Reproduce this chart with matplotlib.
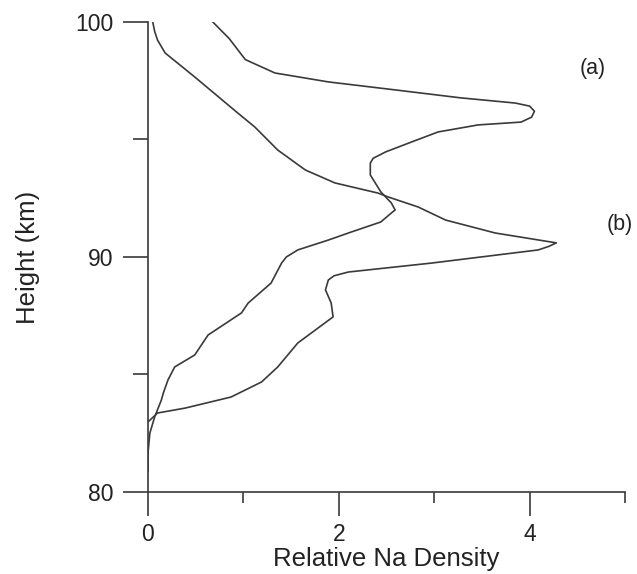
import matplotlib
matplotlib.use("Agg")
import matplotlib.pyplot as plt

plt.rcParams['font.family'] = ['Liberation Sans', 'DejaVu Sans']

# Curve (a): relative Na density vs height
a_density = [0.68, 0.74, 0.85, 1.02, 1.33, 1.89, 2.59, 3.28, 3.85, 4.00, 4.05, 4.02, 3.91,
             3.46, 3.04, 2.76, 2.49, 2.36, 2.33, 2.33, 2.44, 2.55, 2.59, 2.55, 2.44, 2.10,
             1.89, 1.57, 1.45, 1.40, 1.29, 1.05, 0.98, 0.63, 0.49, 0.28, 0.21, 0.16, 0.14,
             0.07, 0.02, 0.0, 0.0]
a_height = [100.0, 99.75, 99.3, 98.4, 97.83, 97.45, 97.11, 96.77, 96.55, 96.42, 96.2, 95.95,
            95.74, 95.62, 95.32, 94.89, 94.47, 94.2, 94.0, 93.49, 92.77, 92.30, 92.0, 91.87,
            91.49, 91.02, 90.72, 90.30, 90.0, 89.74, 88.89, 88.04, 87.62, 86.68, 85.83,
            85.32, 84.77, 84.2, 83.91, 83.19, 82.51, 81.66, 80.9]

# Curve (b)
b_density = [0.05, 0.07, 0.10, 0.18, 0.49, 0.94, 1.12, 1.36, 1.65, 1.96, 2.41, 2.52, 2.83,
             3.12, 3.64, 4.28, 4.20, 4.09, 2.97, 2.10, 1.95, 1.89, 1.86, 1.92, 1.94, 1.57,
             1.36, 1.19, 0.87, 0.39, 0.10, 0.0]
b_height = [100.0, 99.6, 99.23, 98.68, 97.66, 96.13, 95.53, 94.55, 93.70, 93.15, 92.72,
            92.55, 92.13, 91.57, 91.02, 90.60, 90.45, 90.30, 89.74, 89.36, 89.2, 89.02,
            88.60, 88.04, 87.45, 86.34, 85.32, 84.68, 84.04, 83.57, 83.36, 82.98]

labels = ["(a)", "(b)"]
label_x = [4.66, 4.94]
label_y = [98.04, 91.4]

x_major = [0, 2, 4]
x_minor = [1, 3, 5]
y_major = [80, 90, 100]
y_minor = [85, 95]

fig = plt.figure(figsize=(6.37, 5.74), dpi=100)
ax = fig.add_axes([0.2323, 0.1429, 0.749, 0.8188])

ink = '#3a3a3a'
txt = '#222222'
ax.plot(a_density, a_height, color=ink, lw=1.2)
ax.plot(b_density, b_height, color=ink, lw=1.2)

for t, xx, yy in zip(labels, label_x, label_y):
    ax.text(xx, yy, t, fontsize=15.5, ha='center', va='center', color=txt, clip_on=False)

ax.set_xlim(0, 5)
ax.set_ylim(80, 100)
ax.set_xticks(x_major)
ax.set_xticks(x_minor, minor=True)
ax.set_yticks(y_major)
ax.set_yticks(y_minor, minor=True)
ax.tick_params(axis='x', which='major', direction='out', length=17, width=1.2, colors=ink,
               labelsize=16.5, pad=5, labelcolor=txt)
ax.tick_params(axis='x', which='minor', direction='out', length=8, width=1.2, colors=ink)
ax.tick_params(axis='y', which='major', direction='out', length=18, width=1.2, colors=ink,
               labelsize=16.5, pad=7, labelcolor=txt)
ax.tick_params(axis='y', which='minor', direction='out', length=11, width=1.2, colors=ink)

for s in ['top', 'right']:
    ax.spines[s].set_visible(False)
for s in ['left', 'bottom']:
    ax.spines[s].set_color(ink)
    ax.spines[s].set_linewidth(1.2)

ax.set_xlabel("Relative Na Density", fontsize=18.5, color=txt, labelpad=1)
ax.set_ylabel("Height (km)", fontsize=18.5, color=txt)
ax.yaxis.set_label_coords(-0.226, 0.5)

fig.savefig("out.png", dpi=100)
